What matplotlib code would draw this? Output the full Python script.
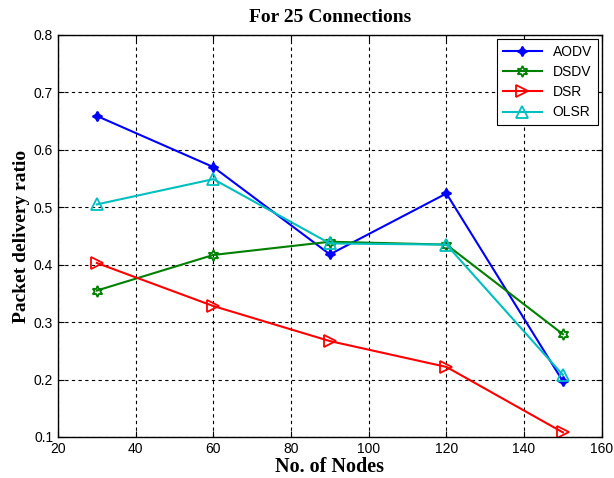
import matplotlib
matplotlib.use("Agg")
import matplotlib.pyplot as plt

nodes = [30, 60, 90, 120, 150]
aodv = [0.659, 0.570, 0.418, 0.524, 0.197]
dsdv = [0.355, 0.417, 0.440, 0.435, 0.279]
dsr = [0.403, 0.328, 0.267, 0.222, 0.108]
olsr = [0.505, 0.549, 0.437, 0.435, 0.208]

series = [
    ("AODV", aodv, "#0000ff", dict(marker=(4, 1, 0), markersize=7, markerfacecolor="#0000ff")),
    ("DSDV", dsdv, "#008000", dict(marker=(6, 1, 0), markersize=8, markerfacecolor="none")),
    ("DSR", dsr, "#ff0000", dict(marker=">", markersize=8, markerfacecolor="none")),
    ("OLSR", olsr, "#00bfbf", dict(marker="^", markersize=8, markerfacecolor="none")),
]

fig = plt.figure(figsize=(6.14, 4.78), dpi=100)
ax = fig.add_axes([0.0945, 0.0858, 0.8855, 0.841])

for name, vals, col, mk in series:
    ax.plot(nodes, vals, color=col, linewidth=1.5, markeredgecolor=col,
            markeredgewidth=1.3, label=name, **mk)

ax.set_xlim(20, 160)
ax.set_ylim(0.1, 0.8)
ax.set_xticks(range(20, 161, 20))
ax.set_yticks([0.1, 0.2, 0.3, 0.4, 0.5, 0.6, 0.7, 0.8])
ax.set_yticklabels(["0.1", "0.2", "0.3", "0.4", "0.5", "0.6", "0.7", "0.8"])
ax.grid(True, color="black", linestyle=(0, (3, 3)), linewidth=0.8)
ax.tick_params(direction="in", top=True, right=True, labelsize=10, length=4)
for lab in ax.get_xticklabels() + ax.get_yticklabels():
    lab.set_family("Liberation Sans")
for sp in ax.spines.values():
    sp.set_linewidth(1.0)

ax.set_title("For 25 Connections", family="Liberation Serif", fontweight="bold",
             fontsize=14, pad=9)
ax.set_xlabel("No. of Nodes", family="Liberation Serif", fontweight="bold",
              fontsize=14.5, labelpad=1)
ax.set_ylabel("Packet delivery ratio", family="Liberation Serif", fontweight="bold",
              fontsize=14, labelpad=3)

leg = ax.legend(loc="upper right", prop={"family": "Liberation Sans", "size": 10},
                fancybox=False, framealpha=1, edgecolor="black",
                borderaxespad=0.3, handlelength=2.8, labelspacing=0.45)
leg.get_frame().set_linewidth(0.8)

fig.savefig("out.png", dpi=100)
